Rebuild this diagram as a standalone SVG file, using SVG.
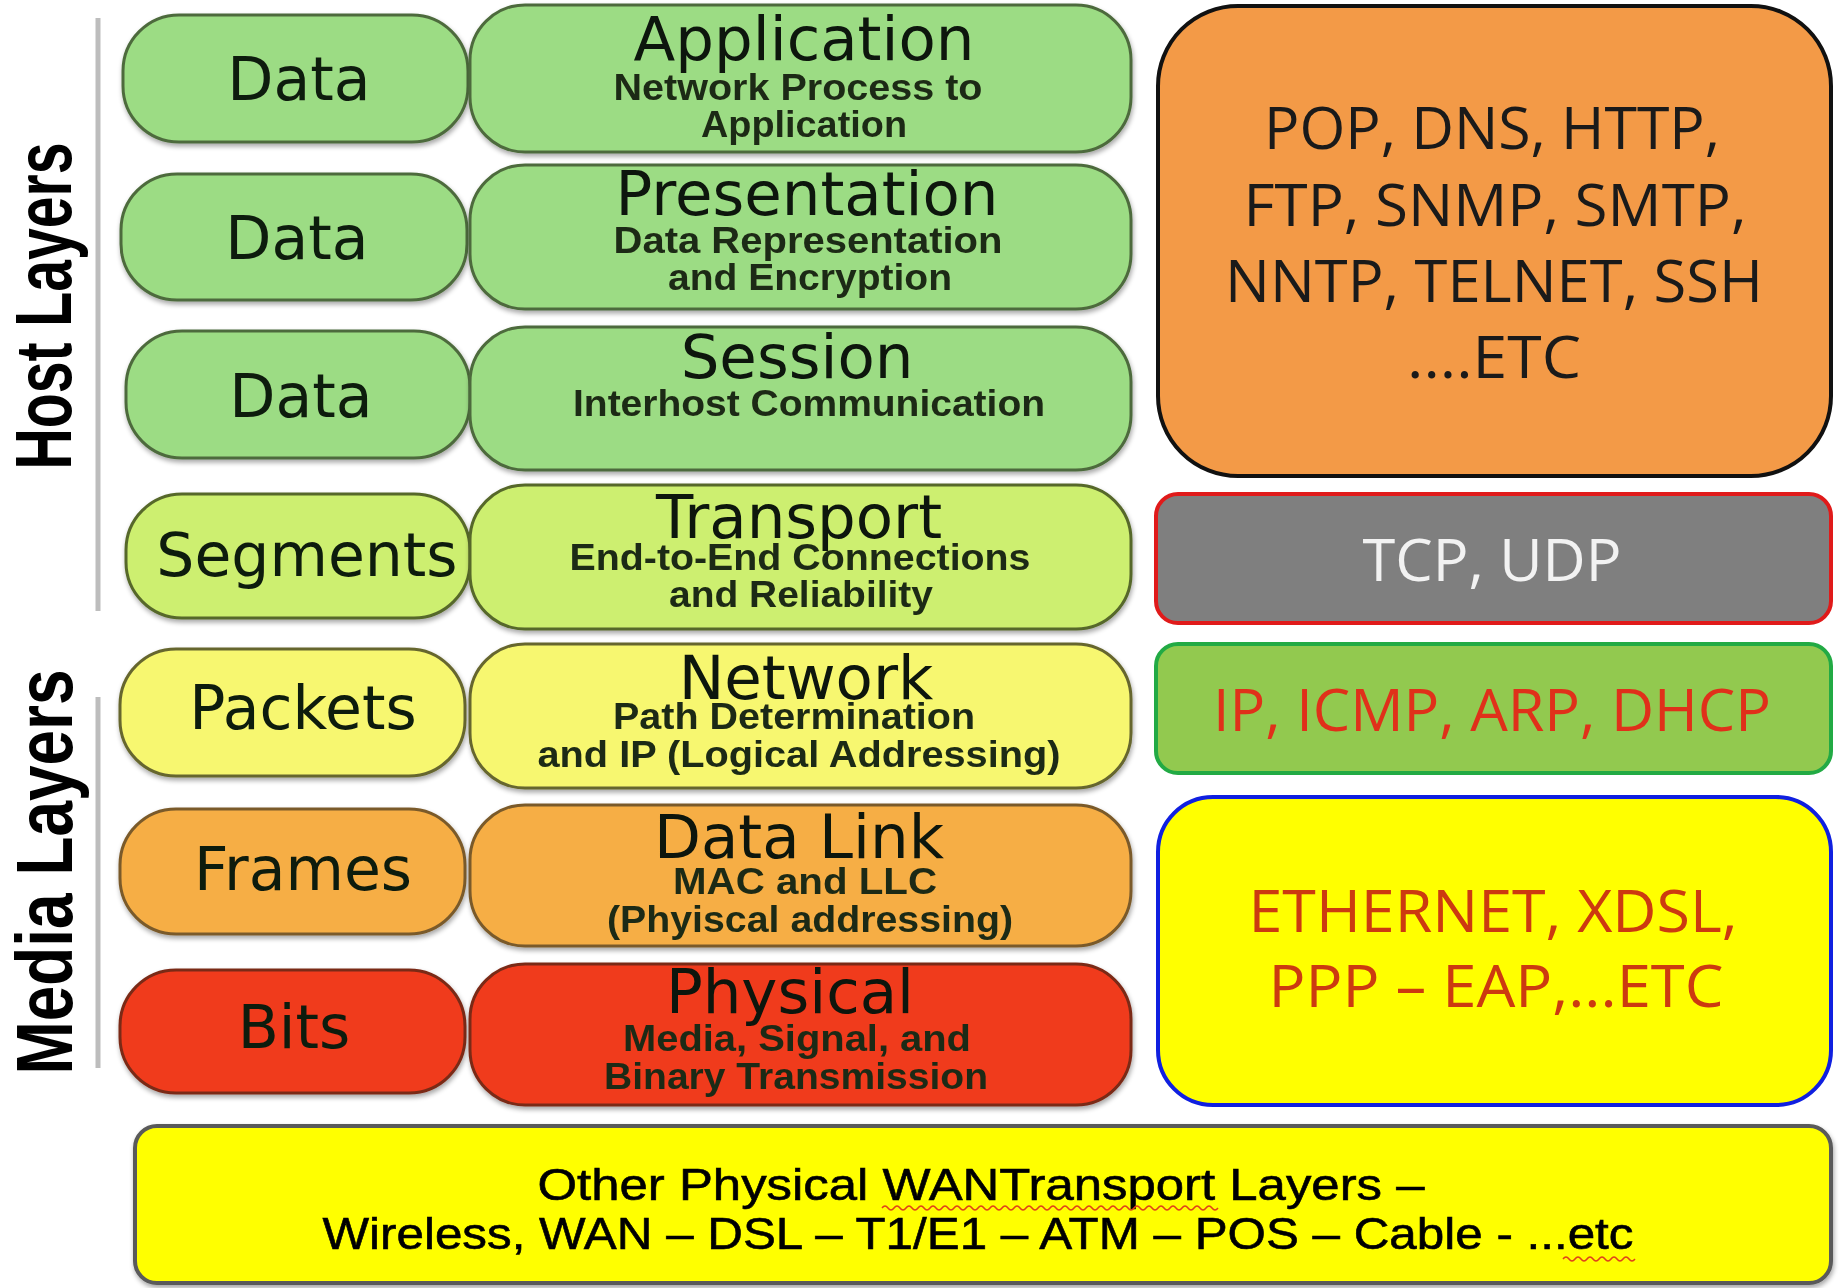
<svg xmlns="http://www.w3.org/2000/svg" width="1843" height="1288" viewBox="0 0 1843 1288">
<defs>
<filter id="sh" x="-5%" y="-10%" width="110%" height="125%">
<feGaussianBlur in="SourceAlpha" stdDeviation="2.5"/>
<feOffset dx="1" dy="3" result="b"/>
<feComponentTransfer><feFuncA type="linear" slope="0.35"/></feComponentTransfer>
<feMerge><feMergeNode/><feMergeNode in="SourceGraphic"/></feMerge>
</filter>
</defs>
<style>
.unit{font-family:"DejaVu Sans",sans-serif;font-size:60px;fill:#111a0f;text-anchor:middle}
.title{font-family:"DejaVu Sans",sans-serif;font-size:61px;fill:#0c140c;text-anchor:middle}
.sub{font-family:"Liberation Sans",Arial,sans-serif;font-weight:bold;font-size:36px;fill:#1f2a14;text-anchor:middle}
.side{font-family:"Liberation Sans",Arial,sans-serif;font-weight:bold;font-size:80px;fill:#000;text-anchor:middle}
.proto{font-family:"Open Sans",sans-serif;font-size:58px;text-anchor:middle}
.bot{font-family:"Liberation Sans",Arial,sans-serif;font-size:45px;fill:#000;text-anchor:middle;stroke:#000;stroke-width:0.6}
.g1{fill:#9cdc84;stroke:#4d6b3c;stroke-width:3}
.g2{fill:#cdef6f;stroke:#56672a;stroke-width:3}
.g3{fill:#f7f770;stroke:#66662e;stroke-width:3}
.g4{fill:#f6ae45;stroke:#7a5a2a;stroke-width:3}
.g5{fill:#f03a1c;stroke:#7a2a18;stroke-width:3}
</style>
<rect width="1843" height="1288" fill="#ffffff"/>

<g id="side-labels">
<line x1="98" y1="18" x2="98" y2="611" stroke="#bdbdbd" stroke-width="5"/>
<line x1="98" y1="697" x2="98" y2="1068" stroke="#bdbdbd" stroke-width="5"/>
<text class="side" transform="translate(71,306) rotate(-90)" textLength="327" lengthAdjust="spacingAndGlyphs">Host Layers</text>
<text class="side" transform="translate(72,872) rotate(-90)" textLength="405" lengthAdjust="spacingAndGlyphs">Media Layers</text>
</g>

<g id="units" filter="url(#sh)">
<g id="unit-data-1"><rect class="g1" x="123" y="15" width="345" height="127" rx="56"/><text class="unit" x="299" y="100">Data</text></g>
<g id="unit-data-2"><rect class="g1" x="121" y="174" width="346" height="126" rx="56"/><text class="unit" x="297" y="259">Data</text></g>
<g id="unit-data-3"><rect class="g1" x="126" y="331" width="344" height="127" rx="56"/><text class="unit" x="301" y="417">Data</text></g>
<g id="unit-segments"><rect class="g2" x="126" y="494" width="344" height="124" rx="56"/><text class="unit" x="307" y="576">Segments</text></g>
<g id="unit-packets"><rect class="g3" x="120" y="649" width="345" height="127" rx="56"/><text class="unit" x="303" y="729">Packets</text></g>
<g id="unit-frames"><rect class="g4" x="120" y="809" width="345" height="125" rx="56"/><text class="unit" x="303" y="890">Frames</text></g>
<g id="unit-bits"><rect class="g5" x="120" y="970" width="345" height="123" rx="56"/><text class="unit" x="294" y="1048">Bits</text></g>
</g>

<g id="layers" filter="url(#sh)">
<g id="layer-application"><rect class="g1" x="470" y="5" width="661" height="147" rx="55"/>
<text class="title" x="804" y="60">Application</text>
<text class="sub" x="798" y="100" textLength="369" lengthAdjust="spacingAndGlyphs">Network Process to</text>
<text class="sub" x="804" y="137" textLength="206" lengthAdjust="spacingAndGlyphs">Application</text></g>
<g id="layer-presentation"><rect class="g1" x="470" y="165" width="661" height="144" rx="55"/>
<text class="title" x="807" y="215">Presentation</text>
<text class="sub" x="808" y="253" textLength="389" lengthAdjust="spacingAndGlyphs">Data Representation</text>
<text class="sub" x="810" y="290" textLength="284" lengthAdjust="spacingAndGlyphs">and Encryption</text></g>
<g id="layer-session"><rect class="g1" x="470" y="327" width="661" height="143" rx="55"/>
<text class="title" x="797" y="378">Session</text>
<text class="sub" x="809" y="416" textLength="472" lengthAdjust="spacingAndGlyphs">Interhost Communication</text></g>
<g id="layer-transport"><rect class="g2" x="470" y="485" width="661" height="144" rx="55"/>
<text class="title" x="799" y="538">Transport</text>
<text class="sub" x="800" y="570" textLength="461" lengthAdjust="spacingAndGlyphs">End-to-End Connections</text>
<text class="sub" x="801" y="607" textLength="264" lengthAdjust="spacingAndGlyphs">and Reliability</text></g>
<g id="layer-network"><rect class="g3" x="470" y="644" width="661" height="144" rx="55"/>
<text class="title" x="806" y="699">Network</text>
<text class="sub" x="794" y="729" textLength="362" lengthAdjust="spacingAndGlyphs">Path Determination</text>
<text class="sub" x="799" y="767" textLength="523" lengthAdjust="spacingAndGlyphs">and IP (Logical Addressing)</text></g>
<g id="layer-datalink"><rect class="g4" x="470" y="805" width="661" height="141" rx="55"/>
<text class="title" x="799" y="858">Data Link</text>
<text class="sub" x="805" y="894" textLength="264" lengthAdjust="spacingAndGlyphs">MAC and LLC</text>
<text class="sub" x="810" y="932" textLength="406" lengthAdjust="spacingAndGlyphs">(Phyiscal addressing)</text></g>
<g id="layer-physical"><rect class="g5" x="470" y="964" width="661" height="141" rx="55"/>
<text class="title" x="790" y="1013">Physical</text>
<text class="sub" x="797" y="1051" textLength="348" lengthAdjust="spacingAndGlyphs">Media, Signal, and</text>
<text class="sub" x="796" y="1089" textLength="384" lengthAdjust="spacingAndGlyphs">Binary Transmission</text></g>
</g>

<g id="protocols">
<g id="proto-application"><rect x="1158" y="6" width="673" height="470" rx="80" fill="#f39a47" stroke="#111" stroke-width="4"/>
<text class="proto" x="1492" y="149" fill="#1a1a1a" textLength="456" lengthAdjust="spacingAndGlyphs">POP, DNS, HTTP,</text>
<text class="proto" x="1495" y="226" fill="#1a1a1a" textLength="503" lengthAdjust="spacingAndGlyphs">FTP, SNMP, SMTP,</text>
<text class="proto" x="1494" y="302" fill="#1a1a1a" textLength="538" lengthAdjust="spacingAndGlyphs">NNTP, TELNET, SSH</text>
<text class="proto" x="1494" y="378" fill="#1a1a1a" textLength="174" lengthAdjust="spacingAndGlyphs">....ETC</text></g>
<g id="proto-transport"><rect x="1156" y="494" width="675" height="129" rx="22" fill="#7f7f7f" stroke="#e01a1a" stroke-width="4"/>
<text class="proto" x="1492" y="581" fill="#f2f2f2" textLength="259" lengthAdjust="spacingAndGlyphs">TCP, UDP</text></g>
<g id="proto-network"><rect x="1156" y="644" width="675" height="129" rx="22" fill="#92c94f" stroke="#22aa44" stroke-width="4"/>
<text class="proto" x="1492" y="731" fill="#e0301a" textLength="558" lengthAdjust="spacingAndGlyphs">IP, ICMP, ARP, DHCP</text></g>
<g id="proto-link"><rect x="1158" y="797" width="673" height="308" rx="55" fill="#ffff00" stroke="#1020e0" stroke-width="4"/>
<text class="proto" x="1493" y="932" fill="#cc3a10" font-size="55" textLength="489" lengthAdjust="spacingAndGlyphs">ETHERNET, XDSL,</text>
<text class="proto" x="1496" y="1007" fill="#cc3a10" font-size="55" textLength="455" lengthAdjust="spacingAndGlyphs">PPP – EAP,...ETC</text></g>
</g>

<g id="wan" filter="url(#sh)">
<rect x="135" y="1126" width="1696" height="157" rx="22" fill="#ffff00" stroke="#5a5a5a" stroke-width="4"/>
<text class="bot" x="981" y="1200" textLength="887" lengthAdjust="spacingAndGlyphs">Other Physical WANTransport  Layers –</text>
<text class="bot" x="978" y="1249" textLength="1311" lengthAdjust="spacingAndGlyphs">Wireless, WAN – DSL – T1/E1 – ATM – POS – Cable - ...etc</text>
<path d="M882 1208 q3 -4 6 0 t6 0 t6 0 t6 0 t6 0 t6 0 t6 0 t6 0 t6 0 t6 0 t6 0 t6 0 t6 0 t6 0 t6 0 t6 0 t6 0 t6 0 t6 0 t6 0 t6 0 t6 0 t6 0 t6 0 t6 0 t6 0 t6 0 t6 0 t6 0 t6 0 t6 0 t6 0 t6 0 t6 0 t6 0 t6 0 t6 0 t6 0 t6 0 t6 0 t6 0 t6 0 t6 0 t6 0 t6 0 t6 0 t6 0 t6 0 t6 0 t6 0 t6 0 t6 0 t6 0 t6 0 t6 0 t6 0" fill="none" stroke="#e0401a" stroke-width="1.5"/>
<path d="M1563 1259 q3 -4 6 0 t6 0 t6 0 t6 0 t6 0 t6 0 t6 0 t6 0 t6 0 t6 0 t6 0 t6 0" fill="none" stroke="#e0401a" stroke-width="1.5"/>
</g>
</svg>
